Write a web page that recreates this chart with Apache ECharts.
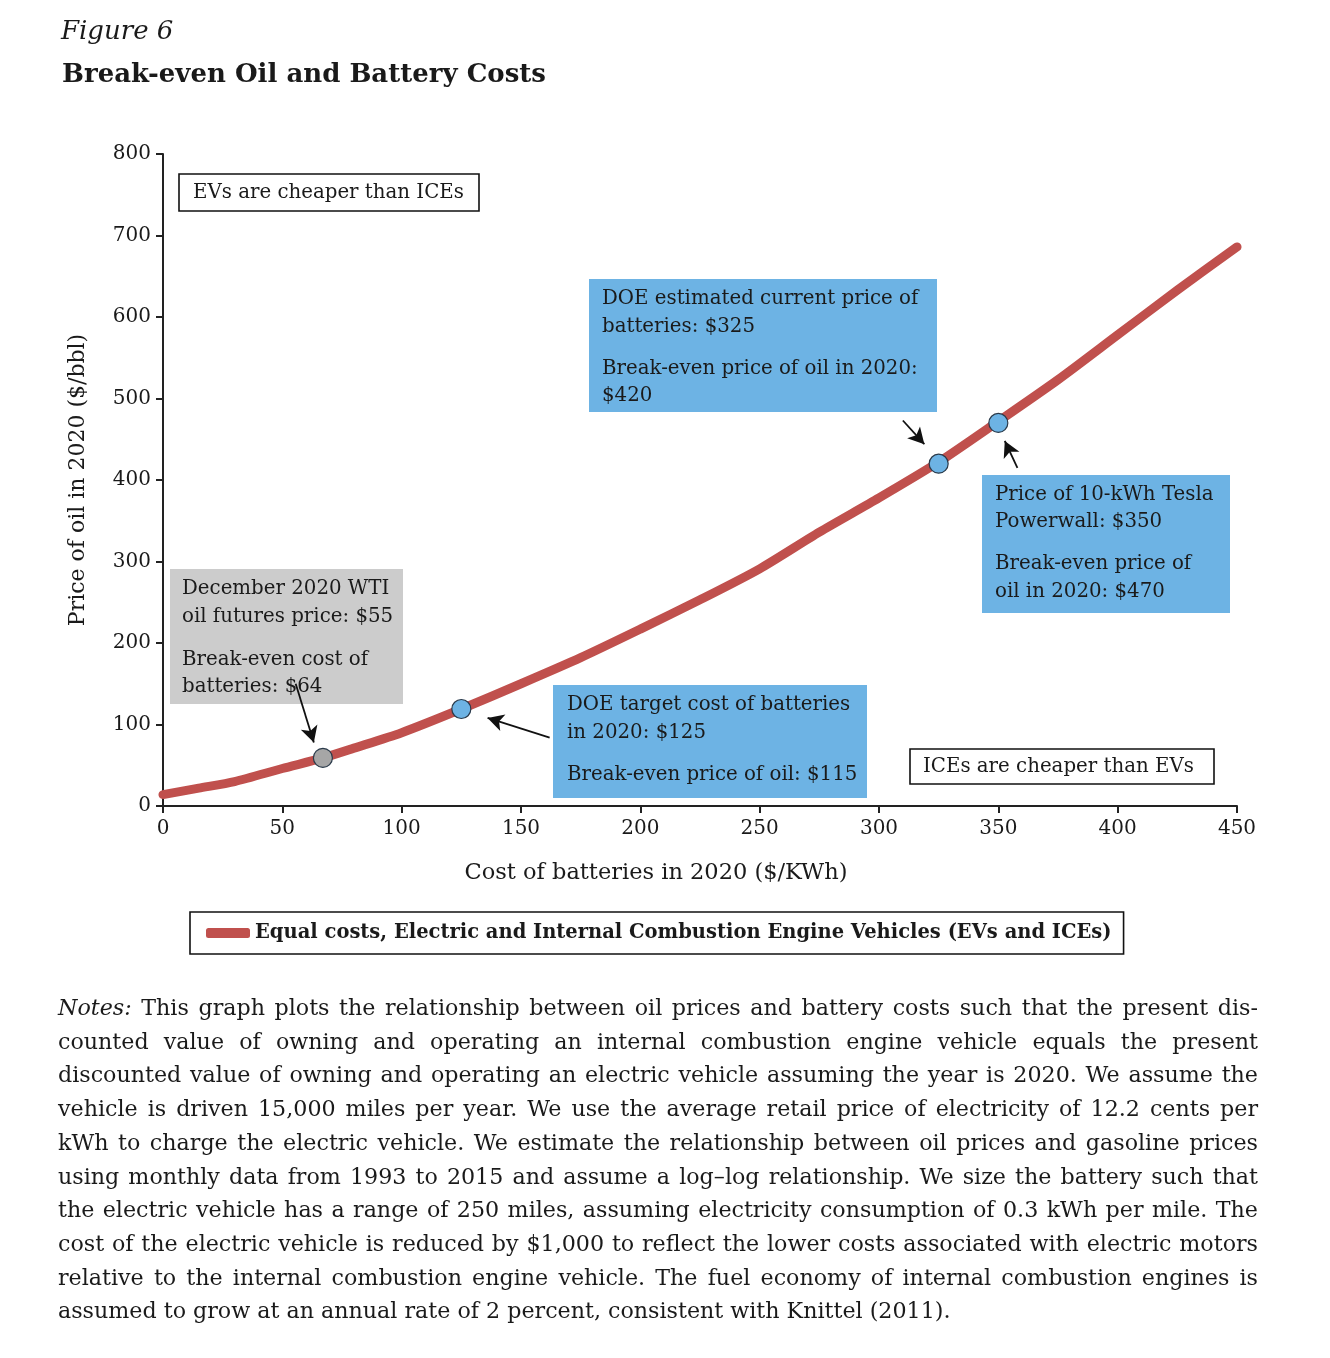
<!DOCTYPE html>
<html>
<head>
<meta charset="utf-8">
<script src="https://cdn.jsdelivr.net/npm/echarts@6/dist/echarts.min.js"></script>
<style>
  body { margin: 0; background: #fff; }
  #chart { position: absolute; left: 0; top: 0; width: 1330px; height: 1358px; }
  .notes {
    position: absolute; left: 58px; top: 991px; width: 1200px;
    font-family: "DejaVu Serif", serif; font-size: 22.2px; line-height: 33.7px; color: #1a1a1a;
  }
  .notes div { text-align: justify; text-align-last: justify; white-space: nowrap; }
  .notes div.last { text-align-last: left; }
</style>
</head>
<body>
<div id="chart"></div>
<div class="notes">
  <div><i>Notes:</i> This graph plots the relationship between oil prices and battery costs such that the present dis-</div>
  <div>counted value of owning and operating an internal combustion engine vehicle equals the present</div>
  <div>discounted value of owning and operating an electric vehicle assuming the year is 2020. We assume the</div>
  <div>vehicle is driven 15,000 miles per year. We use the average retail price of electricity of 12.2 cents per</div>
  <div>kWh to charge the electric vehicle. We estimate the relationship between oil prices and gasoline prices</div>
  <div>using monthly data from 1993 to 2015 and assume a log–log relationship. We size the battery such that</div>
  <div>the electric vehicle has a range of 250 miles, assuming electricity consumption of 0.3 kWh per mile. The</div>
  <div>cost of the electric vehicle is reduced by $1,000 to reflect the lower costs associated with electric motors</div>
  <div>relative to the internal combustion engine vehicle. The fuel economy of internal combustion engines is</div>
  <div class="last">assumed to grow at an annual rate of 2 percent, consistent with Knittel (2011).</div>
</div>
<script>
  // break-even curve
  var batteryCost = [0, 15, 30, 50, 67, 80, 100, 125, 150, 175, 200, 225, 250, 275, 300, 325, 350, 375, 400, 425, 450]
  var oilPrice = [14, 22, 30, 46, 59, 71, 90, 119, 150, 182, 217, 253, 291, 336, 378, 422, 472, 523, 578, 633, 686]

  // highlighted points
  var pointCost = [67, 125, 325, 350]
  var pointOil = [59, 119, 420, 470]
  var pointKind = ['wti', 'doe', 'doe', 'tesla']

  var seriesName = 'Equal costs, Electric and Internal Combustion Engine Vehicles (EVs and ICEs)'
  var serif = '"DejaVu Serif", serif'
  var red = '#C0504D'
  var blue = '#6DB3E4'
  var grey = '#CCCCCC'

  var lineData = batteryCost.map(function (c, i) { return [c, oilPrice[i]] })
  var dotData = pointCost.map(function (c, i) {
    return {
      value: [c, pointOil[i]],
      itemStyle: { color: pointKind[i] === 'wti' ? '#A6A6A6' : blue }
    }
  })

  // annotation boxes (pixel layout)
  function box(x, y, w, h, fill, border, lines) {
    var children = [{
      type: 'rect',
      shape: { x: 0, y: 0, width: w, height: h },
      style: { fill: fill, stroke: border || null, lineWidth: border ? 1.6 : 0 }
    }]
    lines.forEach(function (l) {
      children.push({
        type: 'text',
        x: l[0], y: l[1],
        style: { text: l[2], font: '19.8px ' + serif, fill: '#1a1a1a', textVerticalAlign: 'middle' }
      })
    })
    return { type: 'group', x: x, y: y, children: children }
  }

  var chart = echarts.init(document.getElementById('chart'))
  var option = {
    backgroundColor: '#fff',
    animation: false,
    title: [{
      text: 'Figure 6',
      left: 56, top: 14,
      textStyle: { fontFamily: serif, fontStyle: 'italic', fontWeight: 'normal', fontSize: 26, color: '#1a1a1a' }
    }, {
      text: 'Break-even Oil and Battery Costs',
      left: 57, top: 57,
      textStyle: { fontFamily: serif, fontWeight: 'bold', fontSize: 26, color: '#1a1a1a' }
    }],
    grid: { left: 163, right: 93, top: 154, bottom: 552 },
    legend: {
      data: [seriesName],
      left: 190, top: 912,
      padding: [11, 12, 11, 16],
      borderColor: '#111', borderWidth: 1.6,
      itemWidth: 44, itemHeight: 10, itemGap: 10,
      icon: 'roundRect',
      textStyle: { fontFamily: serif, fontSize: 19.5, fontWeight: 'bold', color: '#1a1a1a' }
    },
    xAxis: {
      type: 'value', min: 0, max: 450, interval: 50,
      name: 'Cost of batteries in 2020 ($/KWh)',
      nameLocation: 'middle', nameGap: 56,
      nameTextStyle: { fontFamily: serif, fontSize: 22.5, color: '#1a1a1a', padding: [0, 88, 0, 0] },
      axisLine: { lineStyle: { color: '#222', width: 2 } },
      axisTick: { length: 7, lineStyle: { color: '#222', width: 2 } },
      axisLabel: { fontFamily: serif, fontSize: 20, color: '#1a1a1a', margin: 13 },
      splitLine: { show: false }
    },
    yAxis: {
      type: 'value', min: 0, max: 800, interval: 100,
      name: 'Price of oil in 2020 ($/bbl)',
      nameLocation: 'middle', nameGap: 74, nameRotate: 90,
      nameTextStyle: { fontFamily: serif, fontSize: 22, color: '#1a1a1a' },
      axisLine: { show: true, lineStyle: { color: '#222', width: 2 } },
      axisTick: { show: true, length: 7, lineStyle: { color: '#222', width: 2 } },
      axisLabel: { fontFamily: serif, fontSize: 20, color: '#1a1a1a', margin: 12 },
      splitLine: { show: false }
    },
    graphic: [
      box(179, 174, 300, 37, '#fff', '#111', [[14, 19, 'EVs are cheaper than ICEs']]),
      box(910, 749, 304, 35, '#fff', '#111', [[13, 18, 'ICEs are cheaper than EVs']]),
      box(589, 279, 348, 133, blue, null, [
        [13, 20, 'DOE estimated current price of'],
        [13, 48, 'batteries: $325'],
        [13, 90, 'Break-even price of oil in 2020:'],
        [13, 117, '$420']
      ]),
      box(982, 475, 248, 138, blue, null, [
        [13, 20, 'Price of 10-kWh Tesla'],
        [13, 47, 'Powerwall: $350'],
        [13, 89, 'Break-even price of'],
        [13, 117, 'oil in 2020: $470']
      ]),
      box(170, 569, 233, 135, grey, null, [
        [12, 20, 'December 2020 WTI'],
        [12, 48, 'oil futures price: $55'],
        [12, 91, 'Break-even cost of'],
        [12, 118, 'batteries: $64']
      ]),
      box(553, 685, 314, 113, blue, null, [
        [14, 20, 'DOE target cost of batteries'],
        [14, 48, 'in 2020: $125'],
        [14, 90, 'Break-even price of oil: $115']
      ])
    ],
    series: [{
      name: seriesName,
      type: 'line',
      data: lineData,
      smooth: 0.25,
      showSymbol: false,
      color: red,
      lineStyle: { color: red, width: 9, cap: 'round', join: 'round' },
      z: 2
    }, {
      name: 'points',
      type: 'scatter',
      data: dotData,
      symbolSize: 19,
      itemStyle: { borderColor: '#2a3a4a', borderWidth: 1.2, opacity: 1 },
      z: 4,
      markLine: {
        silent: true,
        symbol: ['none', 'arrow'],
        symbolSize: [13, 16],
        lineStyle: { color: '#111', width: 1.8, type: 'solid' },
        label: { show: false },
        data: [
          [{ coord: [55.6, 150] }, { coord: [63.2, 78] }],
          [{ coord: [162, 84] }, { coord: [136, 108] }],
          [{ coord: [310, 473] }, { coord: [319, 444] }],
          [{ coord: [358, 415] }, { coord: [352.7, 448] }]
        ]
      }
    }]
  }
  chart.setOption(option)
</script>
</body>
</html>
